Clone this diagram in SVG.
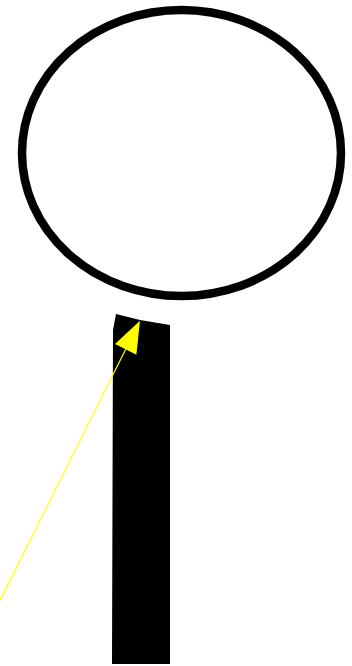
<svg xmlns="http://www.w3.org/2000/svg" width="352" height="666" viewBox="0 0 352 666">
<style>
.outline{fill:none;stroke:#000;stroke-width:8.5}
.solid{fill:#000;stroke:none}
.conn{stroke:#ffff00;stroke-width:1.2;fill:none}
.head{fill:#ffff00;stroke:none}
</style>
<rect x="0" y="0" width="352" height="666" fill="#fff"/>
<g id="head-ellipse">
<ellipse class="outline" cx="181.5" cy="153" rx="159.5" ry="143"/>
</g>
<g id="handle">
<polygon class="solid" points="116,314 140,320 170,325 170,664 112,664 113,330"/>
</g>
<g id="connectors">
<line class="conn" x1="0" y1="600.7" x2="125.7" y2="349.3"/>
<polygon class="head" points="140,320.7 115,343.9 136.4,354.7"/>
</g>
</svg>
